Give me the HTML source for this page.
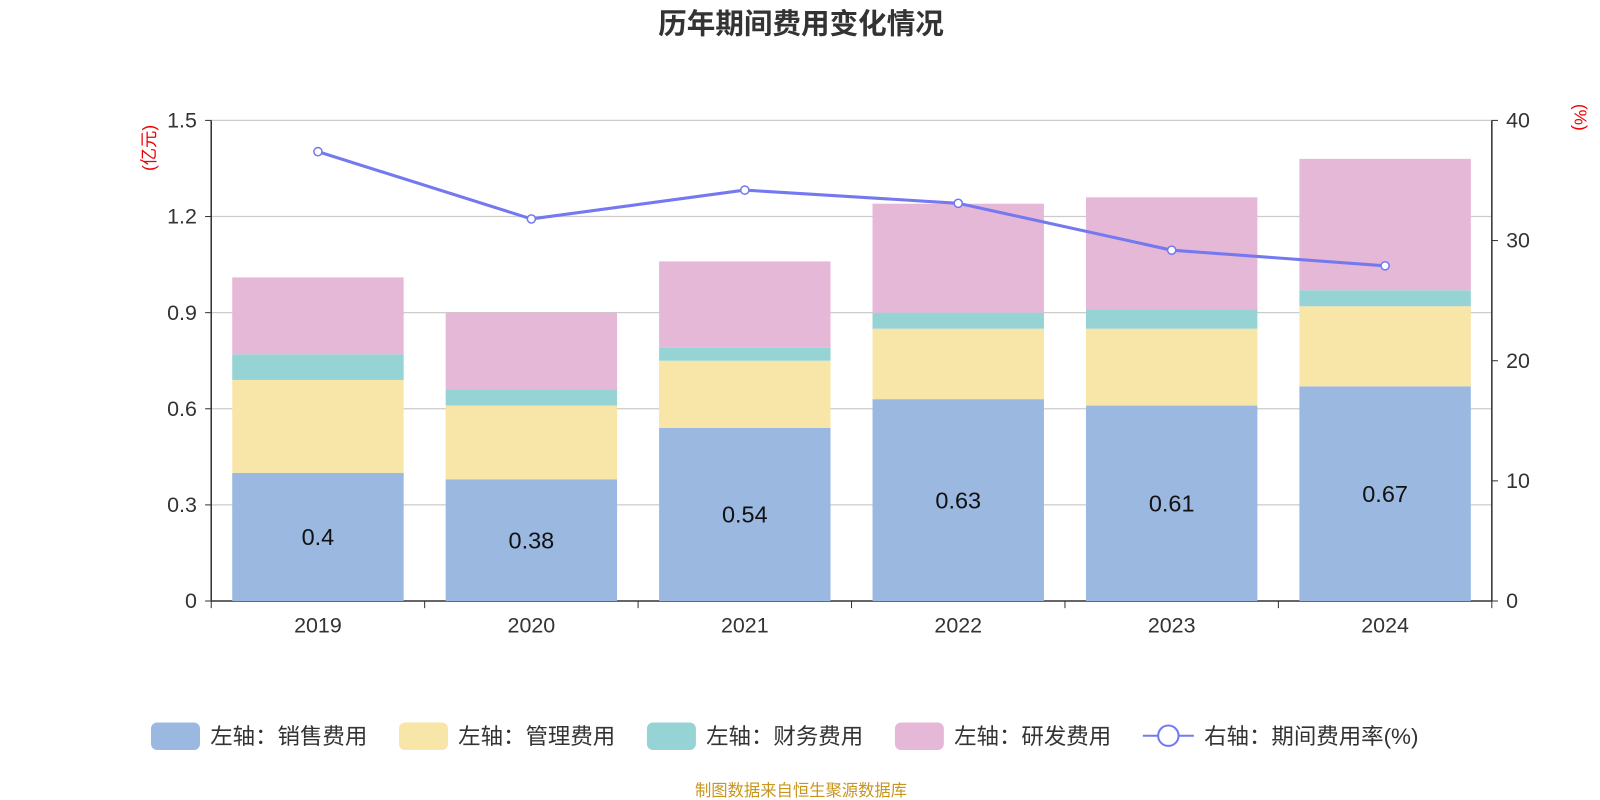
<!DOCTYPE html>
<html><head><meta charset="utf-8"><style>
body{margin:0;background:#fff;}
svg{display:block;font-family:"Liberation Sans","Noto Sans CJK SC",sans-serif;}
</style></head><body>
<svg id="c" width="1600" height="800">
<g transform="scale(1.0204)">
<text x="785" y="33" text-anchor="middle" font-size="28" font-weight="bold" fill="#333">历年期间费用变化情况</text>
<text transform="translate(152,145) rotate(-90)" text-anchor="middle" font-size="17" fill="#e00">(亿元)</text>
<text transform="translate(1543,115) rotate(90)" text-anchor="middle" font-size="17" fill="#e00">(%)</text>
<text x="785" y="780" text-anchor="middle" font-size="16" fill="#c8961e">制图数据来自恒生聚源数据库</text>
<g id="plot"></g>
<g id="legend"></g>
</g>
</svg>
<script>
const categories=['2019','2020','2021','2022','2023','2024'];
const sales=[0.4,0.38,0.54,0.63,0.61,0.67];
const mgmt=[0.29,0.23,0.21,0.22,0.24,0.25];
const fin=[0.08,0.05,0.04,0.05,0.06,0.05];
const rd=[0.24,0.24,0.27,0.34,0.35,0.41];
const rate=[37.4,31.8,34.2,33.1,29.2,27.9];
const leftTicks=[0,0.3,0.6,0.9,1.2,1.5];
const rightTicks=[0,10,20,30,40];
const seriesNames=['左轴：销售费用','左轴：管理费用','左轴：财务费用','左轴：研发费用'];
const colors=['#9bb8e0','#f7e6a8','#96d3d4','#e6b8d8'];
const NS='http://www.w3.org/2000/svg';
const X0=207,X1=1462,Y0=589,Y1=118;
const yL=v=>Y0-(v/1.5)*(Y0-Y1);
const yR=v=>Y0-(v/40)*(Y0-Y1);
const bw=(X1-X0)/categories.length;
const xc=i=>X0+bw*(i+0.5);
const plot=document.getElementById('plot');
function mk(t,a,p){const e=document.createElementNS(NS,t);for(const k in a)e.setAttribute(k,a[k]);(p||plot).appendChild(e);return e;}
leftTicks.forEach(v=>{
 const g=mk('line',{x1:X0,x2:X1,y1:yL(v),y2:yL(v),stroke:v===0?'#333':'#ccc','stroke-width':v===0?1.5:1.2});
 
 
 const t=mk('text',{x:X0-14,y:yL(v)+7,'text-anchor':'end','font-size':21,fill:'#333'});t.textContent=v;
 
 
 mk('line',{x1:X0-6,x2:X0,y1:yL(v),y2:yL(v),stroke:'#333'});
});
rightTicks.forEach(v=>{
 const t=mk('text',{x:X1+14,y:yR(v)+7,'font-size':21,fill:'#333'});t.textContent=v;
 
 
 mk('line',{x1:X1,x2:X1+6,y1:yR(v),y2:yR(v),stroke:'#333'});
});
mk('line',{x1:X0,x2:X0,y1:Y1,y2:Y0,stroke:'#333','stroke-width':1.5});
mk('line',{x1:X1,x2:X1,y1:Y1,y2:Y0,stroke:'#333','stroke-width':1.5});
const stacks=[sales,mgmt,fin,rd];
categories.forEach((c,i)=>{
 let base=0;
 stacks.forEach((s,k)=>{
  const r=mk('rect',{x:xc(i)-84,width:168,y:yL(base+s[i]),height:yL(base)-yL(base+s[i]),fill:colors[k]});
  
  
  base+=s[i];
 });
 const lbl=mk('text',{x:xc(i),y:(yL(0)+yL(sales[i]))/2+8,'text-anchor':'middle','font-size':23,fill:'#111'});lbl.textContent=sales[i];
 
 
 const t=mk('text',{x:xc(i),y:Y0+31,'text-anchor':'middle','font-size':21,fill:'#333'});t.textContent=c;
 
 
});
for(let i=0;i<=categories.length;i++)mk('line',{x1:X0+bw*i,x2:X0+bw*i,y1:Y0,y2:Y0+7,stroke:'#333'});
const pl=mk('polyline',{points:rate.map((v,i)=>xc(i)+','+yR(v)).join(' '),fill:'none',stroke:'#7479f0','stroke-width':3});


rate.forEach((v,i)=>{const p=mk('circle',{cx:xc(i),cy:yR(v),r:4,fill:'#fff',stroke:'#7479f0','stroke-width':1.5});
 
 });
const lg=document.getElementById('legend');
const lx=[148,391,634,877];
seriesNames.forEach((n,k)=>{
 const r=mk('rect',{x:lx[k],y:708,width:48,height:27,rx:6,fill:colors[k]},lg);
 
 
 const t=mk('text',{x:lx[k]+58,y:729,'font-size':22,fill:'#333'},lg);t.textContent=n;
 
 
});
mk('line',{x1:1120,x2:1170,y1:721,y2:721,stroke:'#7479f0','stroke-width':2},lg);
mk('circle',{cx:1145,cy:721,r:10,fill:'#fff',stroke:'#7479f0','stroke-width':2},lg);
const lt=mk('text',{x:1180,y:729,'font-size':22,fill:'#333'},lg);lt.textContent='右轴：期间费用率(%)';


</script>
</body></html>
